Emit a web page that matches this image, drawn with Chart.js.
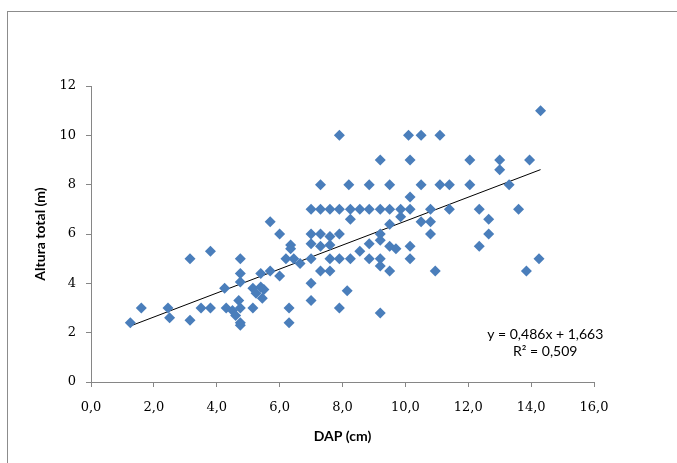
<!DOCTYPE html>
<html>
<head>
<meta charset="utf-8">
<script src="https://cdn.jsdelivr.net/npm/chart.js@4/dist/chart.umd.min.js"></script>
<style>
  html, body { margin: 0; padding: 0; background: #ffffff; }
  #wrap { position: relative; width: 677px; height: 463px; overflow: hidden; }
  #frame { position: absolute; left: 7px; top: 11px; width: 720px; height: 500px; border: 1px solid #8c8c8c; box-sizing: border-box; }
  #c { position: absolute; left: 0; top: 0; }
</style>
</head>
<body>
<div id="wrap">
  <div id="frame"></div>
  <canvas id="c" width="677" height="463"></canvas>
</div>
<script>
// DAP (cm) values
const dapX = [
  1.25, 1.6, 2.45, 2.5, 3.15, 3.15, 3.5, 3.8, 3.8, 4.25,
  4.3, 4.5, 4.6, 4.7, 4.75, 4.75, 4.75, 4.75, 4.75, 4.75,
  5.15, 5.15, 5.25, 5.4, 5.45, 5.5, 5.4, 5.7, 5.7, 6.0,
  6.0, 6.3, 6.3, 6.35, 6.35, 6.2, 6.45, 6.65, 7.0, 7.0,
  7.0, 7.0, 7.0, 7.0, 7.3, 7.6, 7.9, 8.25, 8.55, 8.85,
  9.2, 9.5, 9.85, 10.15, 10.8, 7.3, 8.2, 8.85, 9.5, 10.5,
  11.1, 11.4, 12.05, 13.3, 7.9, 10.1, 10.5, 11.1, 9.2, 10.15,
  12.05, 13.0, 13.0, 13.95, 14.3, 10.15, 8.25, 9.85, 9.5, 10.5,
  10.8, 10.8, 11.4, 12.35, 13.6, 12.65, 12.65, 12.35, 10.95, 13.85,
  14.25, 7.3, 7.6, 7.9, 7.3, 7.6, 7.3, 7.6, 7.6, 7.9,
  8.25, 8.55, 8.85, 9.2, 9.2, 9.5, 10.15, 8.85, 9.2, 9.2,
  9.5, 9.7, 10.15, 8.15, 7.9, 9.2
];
// Altura total (m) values
const alturaY = [
  2.4, 3.0, 3.0, 2.6, 2.5, 5.0, 3.0, 3.0, 5.3, 3.8,
  3.0, 2.9, 2.7, 3.3, 3.0, 2.4, 2.3, 5.0, 4.4, 4.05,
  3.0, 3.8, 3.6, 3.85, 3.4, 3.75, 4.4, 4.5, 6.5, 6.0,
  4.3, 3.0, 2.4, 5.55, 5.4, 5.0, 5.0, 4.8, 5.0, 4.0,
  3.3, 5.6, 6.0, 7.0, 7.0, 7.0, 7.0, 7.0, 7.0, 7.0,
  7.0, 7.0, 7.0, 7.0, 7.0, 8.0, 8.0, 8.0, 8.0, 8.0,
  8.0, 8.0, 8.0, 8.0, 10.0, 10.0, 10.0, 10.0, 9.0, 9.0,
  9.0, 9.0, 8.6, 9.0, 11.0, 7.5, 6.6, 6.7, 6.4, 6.5,
  6.5, 6.0, 7.0, 7.0, 7.0, 6.6, 6.0, 5.5, 4.5, 4.5,
  5.0, 6.0, 5.9, 6.0, 5.5, 5.55, 4.5, 4.5, 5.0, 5.0,
  5.0, 5.3, 5.0, 5.0, 4.7, 4.5, 5.0, 5.6, 5.75, 6.0,
  5.5, 5.4, 5.5, 3.7, 3.0, 2.8
];
// Linear trend line end points (as drawn)
const trendX = [1.25, 14.3];
const trendY = [2.27, 8.61];
// Tick labels
const xTickLabels = ['0,0', '2,0', '4,0', '6,0', '8,0', '10,0', '12,0', '14,0', '16,0'];
const yTickLabels = ['0', '2', '4', '6', '8', '10', '12'];
const equationLines = ['y = 0,486x + 1,663', 'R\u00B2 = 0,509'];
const xTitle = 'DAP (cm)';
const yTitle = 'Altura total (m)';

const scatterData = dapX.map((x, i) => ({ x: x, y: alturaY[i] }));
const trendData = trendX.map((x, i) => ({ x: x, y: trendY[i] }));

const axisColor = '#868686';
const tickFont = { family: 'DejaVu Serif', size: 13 };
const titleFont = { family: 'Lato', size: 14, weight: 'bold' };

const equationPlugin = {
  id: 'equation',
  afterDatasetsDraw(chart) {
    const ctx = chart.ctx;
    const xs = chart.scales.x, ys = chart.scales.y;
    ctx.save();
    ctx.fillStyle = '#000000';
    ctx.font = '14px Lato';
    ctx.textAlign = 'center';
    ctx.textBaseline = 'middle';
    const cx = xs.getPixelForValue(14.45);
    ctx.fillText(equationLines[0], cx, ys.getPixelForValue(1.92));
    ctx.fillText(equationLines[1], cx, ys.getPixelForValue(1.22));
    ctx.restore();
  }
};

new Chart(document.getElementById('c'), {
  type: 'scatter',
  data: {
    datasets: [
      {
        label: 'Altura',
        data: scatterData,
        pointStyle: 'rectRot',
        pointRadius: 5.5,
        pointHoverRadius: 5.5,
        backgroundColor: '#4a7ebb',
        borderColor: '#4a7ebb',
        borderWidth: 0
      },
      {
        type: 'line',
        label: 'Tendência',
        data: trendData,
        borderColor: '#000000',
        borderWidth: 1,
        pointRadius: 0,
        fill: false
      }
    ]
  },
  options: {
    responsive: false,
    animation: false,
    events: [],
    layout: { padding: { left: 0, top: 86, right: 83, bottom: 0 } },
    plugins: { legend: { display: false }, tooltip: { enabled: false } },
    scales: {
      x: {
        type: 'linear',
        min: 0, max: 16,
        afterFit(scale) { scale.height = 81; },
        ticks: {
          stepSize: 2,
          color: '#000000',
          font: tickFont,
          padding: 13,
          maxRotation: 0,
          callback: (v) => xTickLabels[Math.round(v / 2)]
        },
        grid: { drawOnChartArea: false, drawTicks: true, tickLength: 5, color: axisColor },
        border: { display: true, color: axisColor, width: 1 },
        title: { display: true, text: xTitle, color: '#000000', font: titleFont, padding: { top: 0, bottom: 18 } }
      },
      y: {
        type: 'linear',
        min: 0, max: 12,
        afterFit(scale) { scale.width = 91; },
        ticks: {
          stepSize: 2,
          color: '#000000',
          font: tickFont,
          padding: 10,
          callback: (v) => yTickLabels[Math.round(v / 2)]
        },
        grid: { drawOnChartArea: false, drawTicks: true, tickLength: 5, color: axisColor },
        border: { display: true, color: axisColor, width: 1 },
        title: { display: true, text: yTitle, color: '#000000', font: titleFont, padding: { top: 32, bottom: 0 } }
      }
    }
  },
  plugins: [equationPlugin]
});
</script>
</body>
</html>
